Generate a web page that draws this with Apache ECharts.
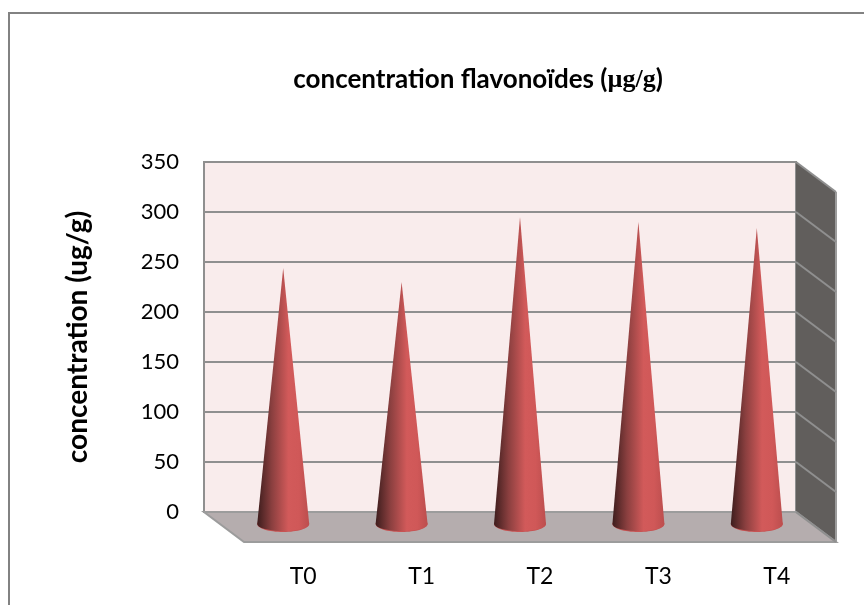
<!DOCTYPE html>
<html><head><meta charset="utf-8">
<style>html,body{margin:0;padding:0;background:#fff}#c{width:864px;height:605px}</style>
<script src="https://cdn.jsdelivr.net/npm/echarts@6/dist/echarts.min.js"></script>
</head><body><div id="c"></div>
<script>
var categories = ['T0','T1','T2','T3','T4'];
var values = [256,242,307,302,296];
var yTicks = [0,50,100,150,200,250,300,350];
var depthX = 40, depthY = 30;
var coneHalf = 26;
var coneGrad = {type:'linear',x:0,y:0,x2:1,y2:0,colorStops:[
  {offset:0,color:'#3d1d1d'},{offset:0.28,color:'#8a3f3f'},{offset:0.6,color:'#d25a5a'},{offset:0.8,color:'#d05858'},{offset:1,color:'#bc4e4e'}]};

var chart = echarts.init(document.getElementById('c'),null,{renderer:'canvas'});
chart.setOption({
  animation:false,
  backgroundColor:'#fff',
  graphic:[{type:'rect',z:-10,shape:{x:9,y:13,width:900,height:700},style:{fill:'#fff',stroke:'#828282',lineWidth:2}}],
  title:{left:473,top:62,textAlign:'center',
    text:'{a|concentration flavonoïdes (}{b|µg/g}{a|)}',
    textStyle:{fontSize:26,rich:{
      a:{fontFamily:'Lato',fontWeight:'bold',fontSize:26,color:'#000'},
      b:{fontFamily:'Liberation Serif',fontWeight:'bold',fontSize:26,color:'#000'}}}},
  grid:[
    {left:204,top:162,width:592,height:350,show:true,backgroundColor:'#f9ecec',borderColor:'#8f8f8f',borderWidth:2},
    {left:244,top:192,width:592,height:350,show:false}
  ],
  xAxis:[
    {type:'category',gridIndex:0,data:categories,axisLine:{show:false},axisTick:{show:false},axisLabel:{show:false},splitLine:{show:false}},
    {type:'category',gridIndex:1,data:categories,axisLine:{show:false},axisTick:{show:false},splitLine:{show:false},
     axisLabel:{margin:23,color:'#000',fontFamily:'Lato',fontSize:23}}
  ],
  yAxis:[
    {type:'value',gridIndex:0,min:0,max:350,interval:50,
     name:'concentration (ug/g)',nameLocation:'middle',nameGap:112,nameRotate:90,
     nameTextStyle:{fontFamily:'Lato',fontWeight:'bold',fontSize:28,color:'#000'},
     axisLine:{show:false},axisTick:{show:false},
     axisLabel:{margin:25,color:'#000',fontFamily:'Lato',fontSize:22},
     splitLine:{show:true,lineStyle:{color:'#8f8f8f',width:2}}},
    {type:'value',gridIndex:1,min:0,max:350,interval:50,show:false,splitLine:{show:false}}
  ],
  series:[
    {type:'custom',xAxisIndex:0,yAxisIndex:0,z:1,silent:true,
     data:yTicks.map(function(v){return [0,v];}),
     renderItem:function(params,api){
       var v=api.value(1);
       var p=api.coord([4,v]);
       var x0=params.coordSys.x+params.coordSys.width, y0=p[1];
       var children=[];
       if(params.dataIndex===0){
         var top=params.coordSys.y, bot=params.coordSys.y+params.coordSys.height, lx=params.coordSys.x;
         children.push({type:'polygon',shape:{points:[[x0,top],[x0+depthX,top+depthY],[x0+depthX,bot+depthY],[x0,bot]]},style:{fill:'#615e5c'}});
         children.push({type:'polygon',shape:{points:[[lx,bot],[x0,bot],[x0+depthX,bot+depthY],[lx+depthX,bot+depthY]]},style:{fill:'#b5adae',stroke:'#9c9c9c',lineWidth:2}});
         children.push({type:'line',shape:{x1:x0+depthX,y1:top+depthY,x2:x0+depthX,y2:bot+depthY},style:{stroke:'#9c9c9c',lineWidth:2}});
       }
       children.push({type:'line',shape:{x1:x0,y1:y0,x2:x0+depthX,y2:y0+depthY},style:{stroke:'#8f8f8f',lineWidth:2}});
       return {type:'group',children:children};
     }},
    {type:'custom',xAxisIndex:0,yAxisIndex:0,z:3,silent:true,
     data:values.map(function(v,i){return [i,v];}),
     renderItem:function(params,api){
       var base=api.coord([api.value(0),0]);
       var tip=api.coord([api.value(0),api.value(1)]);
       var dx=depthX/2, dy=12;
       var cx=base[0]+dx, by=base[1]+dy, ty=tip[1]+dy;
       return {type:'group',children:[
         {type:'ellipse',shape:{cx:cx,cy:by,rx:coneHalf,ry:8},style:{fill:'#c75353'}},
         {type:'polygon',shape:{points:[[cx-coneHalf,by],[cx,ty],[cx+coneHalf,by]]},style:{fill:coneGrad}},
         {type:'path',shape:{pathData:'M'+(cx-coneHalf)+' '+by+' A'+coneHalf+' 7 0 0 0 '+(cx+coneHalf)+' '+by+' Z'},style:{fill:coneGrad}}
       ]};
     }}
  ]
});
</script></body></html>
